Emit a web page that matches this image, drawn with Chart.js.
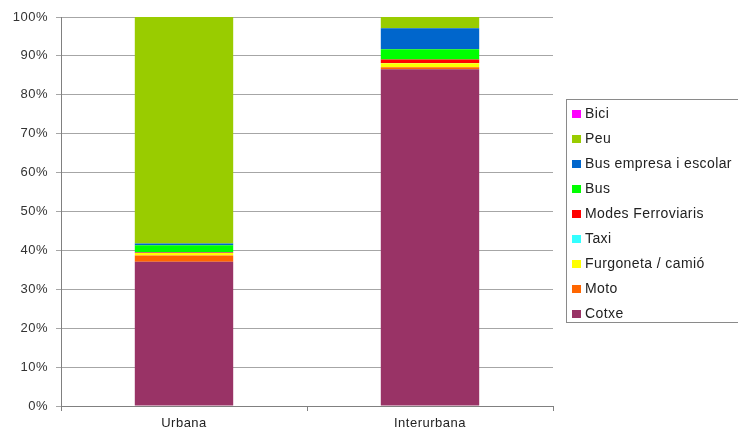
<!DOCTYPE html>
<html>
<head>
<meta charset="utf-8">
<script src="https://cdn.jsdelivr.net/npm/chart.js@4"></script>
<style>
  html, body { margin: 0; padding: 0; background: #fff; overflow: hidden; }
  #wrap { position: relative; width: 738px; height: 437px; }
  #legend {
    position: absolute; left: 566px; top: 99px; width: 190px; height: 224px;
    border: 1px solid #8a8a8a; box-sizing: border-box;
    font-family: "Liberation Sans", Arial, sans-serif; font-size: 14px; color: #222;
    letter-spacing: 0.4px; white-space: nowrap;
  }
  #legend div { position: absolute; left: 5px; height: 15px; line-height: 15px; }
  #legend span { display: inline-block; width: 9px; height: 8px; margin-right: 4px; vertical-align: 0px; }
</style>
</head>
<body>
<div id="wrap">
  <canvas id="grafico" width="738" height="437"></canvas>
  <div id="legend"></div>
</div>
<script>
const categorias = ["Urbana", "Interurbana"];
const modes = ["Cotxe", "Moto", "Furgoneta / camió", "Taxi", "Modes Ferroviaris", "Bus", "Bus empresa i escolar", "Peu", "Bici"];
// percentatges per mode: [Urbana, Interurbana]
const cotxe = [37.1, 86.6];
const moto = [1.6, 0.5];
const furgoneta = [0.6, 1.0];
const taxi = [0.1, 0.1];
const ferroviaris = [0.2, 0.9];
const bus = [1.7, 2.6];
const busEmpresa = [0.5, 5.4];
const peu = [58.2, 2.9];
const bici = [0.0, 0.0];
const ticksY = [0, 10, 20, 30, 40, 50, 60, 70, 80, 90, 100];

const valors = [cotxe, moto, furgoneta, taxi, ferroviaris, bus, busEmpresa, peu, bici];
const colors = ["#993366", "#FF6600", "#FFFF00", "#33FFFF", "#FF0000", "#00FF00", "#0066CC", "#99CC00", "#FF00FF"];

const fontEixos = { family: "'Liberation Sans', Arial, sans-serif", size: 13 };

const datasets = modes.map((m, i) => ({
  label: m,
  data: valors[i],
  backgroundColor: colors[i],
  borderWidth: 0,
  barPercentage: 0.4,
  categoryPercentage: 1.0,
}));

// text una mica mes ample, com a l'original
const espaiat = {
  id: "espaiat",
  beforeLayout: (chart) => { chart.ctx.letterSpacing = "0.5px"; },
  beforeDraw: (chart) => { chart.ctx.letterSpacing = "0.5px"; },
};

const ctx = document.getElementById("grafico").getContext("2d");
let myChart = new Chart(ctx, {
  type: "bar",
  data: { labels: categorias, datasets: datasets },
  plugins: [espaiat],
  options: {
    responsive: false,
    animation: false,
    layout: { padding: { top: 17, right: 185, left: 0, bottom: 0 } },
    plugins: { legend: { display: false }, tooltip: { enabled: false } },
    scales: {
      x: {
        stacked: true,
        grid: { display: true, drawOnChartArea: false, offset: true, color: "#808080", tickLength: 5 },
        border: { color: "#808080" },
        ticks: { color: "#222", font: fontEixos, padding: 5 },
        afterFit: (s) => { s.height = 31; },
      },
      y: {
        stacked: true,
        min: 0,
        max: 100,
        afterBuildTicks: (s) => { s.ticks = ticksY.map(v => ({ value: v })); },
        grid: { color: "#a6a6a6", tickLength: 5 },
        border: { color: "#808080" },
        ticks: { color: "#333", font: fontEixos, padding: 8, callback: (v) => v + "%" },
        afterFit: (s) => { s.width = 61; },
      },
    },
  },
});

// llegenda en ordre invers (Bici a dalt)
const legend = document.getElementById("legend");
modes.slice().reverse().forEach((m, k) => {
  const i = modes.length - 1 - k;
  const d = document.createElement("div");
  d.style.top = (6 + k * 25) + "px";
  d.innerHTML = '<span style="background:' + colors[i] + '"></span>' + m;
  legend.appendChild(d);
});
</script>
</body>
</html>
